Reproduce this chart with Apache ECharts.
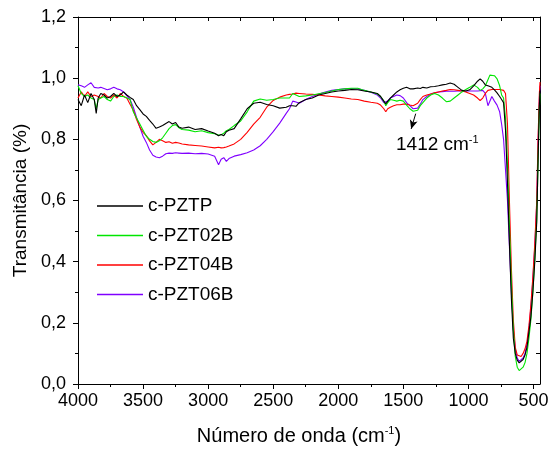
<!DOCTYPE html>
<html>
<head>
<meta charset="utf-8">
<script src="https://cdn.jsdelivr.net/npm/echarts@6/dist/echarts.min.js"></script>
<style>
html, body { margin: 0; padding: 0; background: #fff; }
#chart { width: 551px; height: 454px; }
</style>
</head>
<body>
<div id="chart"></div>
<script>
var waveNumbers = [4000, 3975, 3950, 3925, 3900, 3875, 3860, 3845, 3825, 3800, 3775, 3750, 3725, 3700, 3675, 3650, 3625, 3600, 3575, 3550, 3525, 3500, 3475, 3450, 3425, 3400, 3375, 3350, 3325, 3300, 3275, 3250, 3225, 3200, 3150, 3100, 3050, 3000, 2950, 2920, 2900, 2880, 2860, 2840, 2800, 2750, 2700, 2650, 2600, 2550, 2500, 2450, 2400, 2375, 2350, 2325, 2300, 2250, 2200, 2150, 2100, 2050, 2000, 1950, 1900, 1850, 1800, 1750, 1700, 1675, 1650, 1635, 1620, 1600, 1575, 1550, 1525, 1500, 1475, 1450, 1425, 1410, 1390, 1370, 1350, 1320, 1290, 1260, 1230, 1200, 1170, 1140, 1110, 1080, 1050, 1020, 990, 960, 930, 910, 890, 870, 850, 835, 820, 800, 780, 760, 745, 730, 715, 700, 685, 670, 655, 640, 625, 610, 595, 580, 565, 550, 535, 520, 505, 490, 475, 465, 455, 450];

var pztp = [0.93, 0.91, 0.945, 0.92, 0.95, 0.93, 0.885, 0.935, 0.95, 0.945, 0.935, 0.94, 0.95, 0.94, 0.945, 0.955, 0.945, 0.937, 0.93, 0.91, 0.897, 0.883, 0.875, 0.862, 0.85, 0.836, 0.84, 0.845, 0.852, 0.858, 0.85, 0.855, 0.84, 0.836, 0.84, 0.832, 0.835, 0.827, 0.82, 0.812, 0.816, 0.812, 0.825, 0.83, 0.835, 0.867, 0.9, 0.918, 0.921, 0.914, 0.91, 0.902, 0.905, 0.91, 0.91, 0.908, 0.92, 0.93, 0.935, 0.945, 0.95, 0.955, 0.958, 0.96, 0.963, 0.962, 0.958, 0.955, 0.95, 0.94, 0.925, 0.916, 0.925, 0.935, 0.945, 0.955, 0.962, 0.967, 0.97, 0.965, 0.965, 0.96, 0.968, 0.966, 0.97, 0.968, 0.972, 0.973, 0.975, 0.978, 0.98, 0.984, 0.98, 0.97, 0.96, 0.958, 0.962, 0.975, 0.99, 0.998, 0.99, 0.978, 0.975, 0.973, 0.97, 0.962, 0.952, 0.94, 0.93, 0.92, 0.83, 0.66, 0.46, 0.28, 0.15, 0.1, 0.078, 0.069, 0.071, 0.08, 0.095, 0.12, 0.17, 0.22, 0.3, 0.4, 0.53, 0.73, 0.91, 0.96];

var pzt02b = [0.975, 0.95, 0.94, 0.945, 0.935, 0.93, 0.9, 0.93, 0.935, 0.94, 0.93, 0.925, 0.94, 0.945, 0.94, 0.94, 0.935, 0.93, 0.89, 0.87, 0.85, 0.83, 0.81, 0.8, 0.793, 0.79, 0.795, 0.805, 0.82, 0.835, 0.845, 0.848, 0.838, 0.832, 0.83, 0.825, 0.828, 0.822, 0.818, 0.814, 0.815, 0.82, 0.828, 0.832, 0.845, 0.86, 0.89, 0.925, 0.932, 0.928, 0.93, 0.935, 0.935, 0.935, 0.95, 0.945, 0.94, 0.942, 0.945, 0.949, 0.953, 0.958, 0.963, 0.965, 0.967, 0.967, 0.96, 0.955, 0.948, 0.94, 0.925, 0.91, 0.92, 0.93, 0.928, 0.925, 0.928, 0.925, 0.912, 0.9, 0.892, 0.89, 0.895, 0.91, 0.92, 0.935, 0.945, 0.95, 0.945, 0.935, 0.923, 0.925, 0.935, 0.945, 0.955, 0.963, 0.97, 0.978, 0.97, 0.96, 0.965, 0.975, 0.995, 1.01, 1.014, 1.008, 0.998, 0.975, 0.945, 0.935, 0.87, 0.72, 0.52, 0.33, 0.18, 0.09, 0.055, 0.044, 0.046, 0.055, 0.07, 0.1, 0.15, 0.21, 0.3, 0.41, 0.54, 0.72, 0.9, 0.95];

var pzt04b = [0.935, 0.955, 0.94, 0.955, 0.94, 0.945, 0.95, 0.94, 0.935, 0.95, 0.94, 0.935, 0.945, 0.935, 0.95, 0.94, 0.935, 0.915, 0.895, 0.865, 0.84, 0.823, 0.812, 0.795, 0.782, 0.79, 0.8, 0.795, 0.79, 0.792, 0.787, 0.79, 0.788, 0.785, 0.782, 0.78, 0.778, 0.775, 0.772, 0.774, 0.772, 0.773, 0.775, 0.778, 0.785, 0.8, 0.823, 0.85, 0.872, 0.905, 0.927, 0.938, 0.945, 0.947, 0.948, 0.951, 0.95, 0.948, 0.947, 0.945, 0.942, 0.94, 0.938, 0.935, 0.932, 0.93, 0.925, 0.921, 0.918, 0.912, 0.9, 0.89, 0.9, 0.905, 0.91, 0.913, 0.913, 0.915, 0.915, 0.912, 0.91, 0.91, 0.918, 0.93, 0.94, 0.945, 0.948, 0.952, 0.955, 0.958, 0.96, 0.963, 0.962, 0.96, 0.958, 0.955, 0.95, 0.945, 0.935, 0.927, 0.935, 0.95, 0.96, 0.963, 0.963, 0.963, 0.963, 0.963, 0.962, 0.96, 0.95, 0.85, 0.6, 0.38, 0.21, 0.12, 0.095, 0.089, 0.09, 0.1, 0.115, 0.14, 0.19, 0.26, 0.35, 0.46, 0.6, 0.8, 0.95, 0.987];

var pzt06b = [0.978, 0.975, 0.97, 0.978, 0.985, 0.97, 0.965, 0.968, 0.97, 0.966, 0.962, 0.965, 0.97, 0.965, 0.962, 0.955, 0.943, 0.93, 0.905, 0.872, 0.84, 0.81, 0.79, 0.765, 0.748, 0.742, 0.74, 0.745, 0.753, 0.755, 0.754, 0.756, 0.755, 0.754, 0.755, 0.753, 0.754, 0.752, 0.745, 0.717, 0.735, 0.74, 0.728, 0.737, 0.745, 0.75, 0.756, 0.765, 0.779, 0.8, 0.825, 0.853, 0.885, 0.9, 0.925, 0.922, 0.918, 0.93, 0.94, 0.948, 0.955, 0.96, 0.963, 0.965, 0.966, 0.965, 0.96, 0.954, 0.945, 0.935, 0.92, 0.916, 0.925, 0.935, 0.94, 0.945, 0.943, 0.935, 0.92, 0.91, 0.9, 0.898, 0.902, 0.915, 0.93, 0.94, 0.948, 0.952, 0.955, 0.956, 0.957, 0.957, 0.957, 0.958, 0.958, 0.958, 0.958, 0.958, 0.958, 0.959, 0.96, 0.95, 0.91, 0.915, 0.94, 0.925, 0.912, 0.89, 0.85, 0.8, 0.7, 0.6, 0.45, 0.3, 0.18, 0.115, 0.085, 0.074, 0.076, 0.085, 0.1, 0.13, 0.18, 0.25, 0.34, 0.45, 0.59, 0.78, 0.93, 0.975];

var seriesNames = ['c-PZTP', 'c-PZT02B', 'c-PZT04B', 'c-PZT06B'];
var seriesColors = ['#000000', '#00e600', '#ff0000', '#8000ff'];
var seriesValues = [pztp, pzt02b, pzt04b, pzt06b];

var xMajorTicks = [500, 1000, 1500, 2000, 2500, 3000, 3500, 4000];
var xMinorTicks = [750, 1250, 1750, 2250, 2750, 3250, 3750];

var FONT = 'Liberation Sans, Arial, sans-serif';

function pairs(vals) {
    return waveNumbers.map(function (w, i) { return [w, vals[i]]; });
}

var myChart = echarts.init(document.getElementById('chart'));

var series = seriesNames.map(function (name, i) {
    return {
        name: name,
        type: 'line',
        xAxisIndex: 0,
        yAxisIndex: 0,
        symbol: 'none',
        smooth: false,
        color: seriesColors[i],
        lineStyle: { width: 1.1, color: seriesColors[i] },
        data: pairs(seriesValues[i]),
        z: 10 - i
    };
});

// arrow pointing to the 1412 band
series[1].markLine = {
    silent: true,
    symbol: ['none', 'arrow'],
    symbolSize: [6, 9],
    lineStyle: { color: '#000', width: 1, type: 'solid' },
    label: { show: false },
    data: [[{ coord: [1405, 0.884] }, { coord: [1440, 0.834] }]]
};

var axisLine = { show: true, lineStyle: { color: '#000', width: 1 } };

option = {
    animation: false,
    backgroundColor: '#fff',
    textStyle: { fontFamily: FONT, color: '#000' },
    grid: { left: 78, right: 11, top: 17, bottom: 70, containLabel: false, outerBoundsMode: 'none' },
    legend: {
        orient: 'vertical',
        left: 97,
        top: 196.5,
        padding: 0,
        icon: 'rect',
        itemWidth: 46,
        itemHeight: 1.3,
        itemGap: 10.5,
        data: seriesNames,
        textStyle: { fontSize: 19, lineHeight: 19, fontFamily: FONT, color: '#000' }
    },
    xAxis: [
        {
            type: 'value',
            inverse: true,
            min: 450,
            max: 4000,
            position: 'bottom',
            axisLine: axisLine,
            splitLine: { show: false },
            axisTick: { show: true, inside: false, length: 5, customValues: xMajorTicks, lineStyle: { color: '#000' } },
            axisLabel: {
                show: true, customValues: xMajorTicks, margin: 8, fontSize: 18, fontFamily: FONT, color: '#000',
                formatter: function (v) { return String(v); }
            },
            name: '{a|Número de onda (cm}{s|-1}{a|)}',
            nameLocation: 'middle',
            nameGap: 41,
            nameTextStyle: {
                padding: [0, 20, 0, 0],
                rich: {
                    a: { fontSize: 20, fontFamily: FONT, color: '#000', lineHeight: 22 },
                    s: { fontSize: 11, fontFamily: FONT, color: '#000', lineHeight: 22, verticalAlign: 'top', padding: [0, 0, 11, 0] }
                }
            }
        },
        {
            type: 'value',
            inverse: true,
            min: 450,
            max: 4000,
            position: 'bottom',
            axisLine: { show: false },
            splitLine: { show: false },
            axisTick: { show: true, inside: false, length: 3, customValues: xMinorTicks, lineStyle: { color: '#000' } },
            axisLabel: { show: false }
        },
        {
            type: 'value',
            inverse: true,
            min: 450,
            max: 4000,
            position: 'top',
            axisLine: axisLine,
            splitLine: { show: false },
            axisTick: { show: true, inside: true, length: 4, customValues: xMajorTicks.concat(xMinorTicks), lineStyle: { color: '#000' } },
            axisLabel: { show: false }
        }
    ],
    yAxis: [
        {
            type: 'value',
            min: 0,
            max: 1.2,
            interval: 0.2,
            position: 'left',
            axisLine: axisLine,
            splitLine: { show: false },
            axisTick: { show: true, inside: false, length: 5, lineStyle: { color: '#000' } },
            minorTick: { show: true, splitNumber: 2, length: 3, lineStyle: { color: '#000' } },
            minorSplitLine: { show: false },
            axisLabel: {
                margin: 12,
                fontSize: 18,
                fontFamily: FONT,
                color: '#000',
                formatter: function (v) { return v.toFixed(1).replace('.', ','); }
            },
            name: 'Transmitância (%)',
            nameLocation: 'middle',
            nameGap: 46,
            nameTextStyle: { fontSize: 19, fontFamily: FONT, color: '#000' }
        },
        {
            type: 'value',
            min: 0,
            max: 1.2,
            interval: 0.2,
            position: 'right',
            axisLine: axisLine,
            splitLine: { show: false },
            axisTick: { show: true, inside: true, length: 4, lineStyle: { color: '#000' } },
            minorTick: { show: true, splitNumber: 2, length: 4, lineStyle: { color: '#000' } },
            minorSplitLine: { show: false },
            axisLabel: { show: false }
        }
    ],
    graphic: [
        {
            type: 'text',
            left: 396,
            top: 134,
            style: {
                text: '{a|1412 cm}{s|-1}',
                rich: {
                    a: { fontSize: 19, fontFamily: FONT, fill: '#000', lineHeight: 22 },
                    s: { fontSize: 11, fontFamily: FONT, fill: '#000', lineHeight: 22, verticalAlign: 'top', padding: [0, 0, 11, 0] }
                }
            }
        }
    ],
    series: series
};

myChart.setOption(option);
</script>
</body>
</html>
